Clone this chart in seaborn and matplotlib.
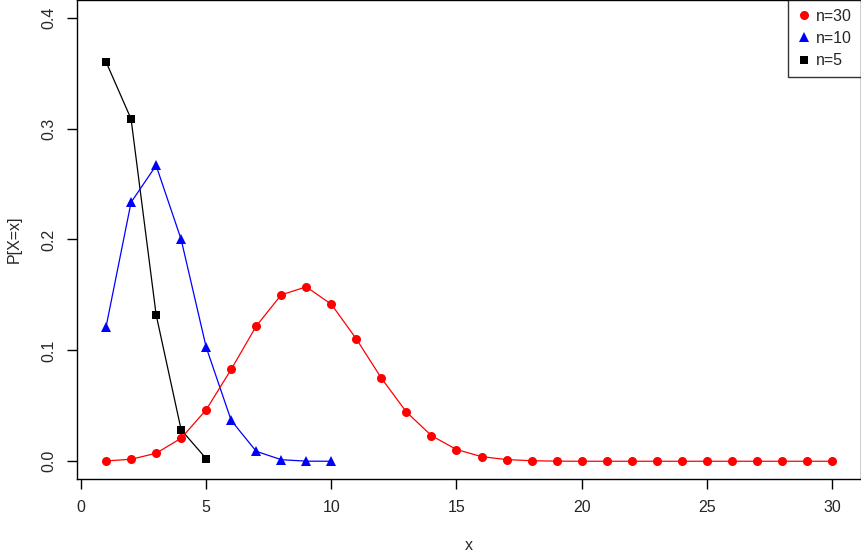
import seaborn as sns
import pandas as pd
import matplotlib.pyplot as plt
from matplotlib.lines import Line2D

# values (binomial-looking pmfs)
x5 = [1, 2, 3, 4, 5]
p5 = [0.3602, 0.3087, 0.1323, 0.0284, 0.0024]

x10 = list(range(1, 11))
p10 = [0.1211, 0.2335, 0.2668, 0.2001, 0.1029, 0.0368, 0.0090, 0.0014, 0.0001, 0.0000]

x30 = list(range(1, 31))
p30 = [0.0003, 0.0018, 0.0072, 0.0208, 0.0464, 0.0829, 0.1219, 0.1501, 0.1573, 0.1416,
       0.1103, 0.0749, 0.0444, 0.0231, 0.0106, 0.0042, 0.0015, 0.0005, 0.0001, 0.0000,
       0.0, 0.0, 0.0, 0.0, 0.0, 0.0, 0.0, 0.0, 0.0, 0.0]

series = ['n=30', 'n=10', 'n=5']
colors = {'n=30': 'red', 'n=10': 'blue', 'n=5': 'black'}
markers = {'n=30': 'o', 'n=10': '^', 'n=5': 's'}
msizes = {'n=30': 6.5, 'n=10': 6.5, 'n=5': 5.5}

df = pd.concat([
    pd.DataFrame({'x': x5, 'p': p5, 'n': 'n=5'}),
    pd.DataFrame({'x': x10, 'p': p10, 'n': 'n=10'}),
    pd.DataFrame({'x': x30, 'p': p30, 'n': 'n=30'}),
])

sns.set_style('white')
plt.rcParams['font.family'] = ['Liberation Sans', 'DejaVu Sans']

fig = plt.figure(figsize=(8.62, 5.56), dpi=100)
ax = fig.add_axes([77 / 862, 77 / 556, 784 / 862, 479 / 556])

for s in ['n=5', 'n=10', 'n=30']:
    sns.lineplot(data=df[df['n'] == s], x='x', y='p', color=colors[s], marker=markers[s],
                 linewidth=0.9, markersize=msizes[s], markeredgewidth=0, legend=False, ax=ax)

ax.set_xlim(-0.16, 31.16)
ax.set_ylim(-0.016, 0.416)
ax.set_xticks([0, 5, 10, 15, 20, 25, 30])
ax.set_yticks([0.0, 0.1, 0.2, 0.3, 0.4])
ax.set_yticklabels(['0.0', '0.1', '0.2', '0.3', '0.4'], rotation=90, va='center')
ax.tick_params(direction='out', length=7, width=1, labelsize=11.5, color='black',
               left=True, bottom=True, pad=8)
for sp in ax.spines.values():
    sp.set_color('black')
    sp.set_linewidth(1)
ax.set_xlabel('x', fontsize=11.5, labelpad=17)
ax.set_ylabel('P[X=x]', fontsize=11.5, labelpad=14)

handles = [Line2D([], [], linestyle='none', marker=markers[s], color=colors[s],
                  markersize=msizes[s], markeredgewidth=0) for s in series]
leg = ax.legend(handles, series, loc='upper right', fontsize=11.5, frameon=True, fancybox=False,
                borderaxespad=0, handletextpad=0.3, handlelength=0.9, labelspacing=0.45,
                borderpad=0.55)
leg.get_frame().set_edgecolor('black')
leg.get_frame().set_linewidth(1)

fig.savefig('out.png', dpi=100)
